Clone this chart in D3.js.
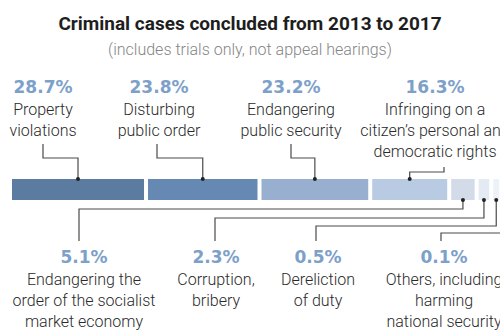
<!DOCTYPE html>
<html>
<head>
<meta charset="utf-8">
<script src="https://cdn.jsdelivr.net/npm/d3@7"></script>
<style>
  body { margin: 0; background: #fff; overflow: hidden; }
  svg { display: block; }
  .title { font-family: Roboto, sans-serif; font-weight: 700; font-size: 19px; fill: #1e1e1e; }
  .subtitle { font-family: Roboto, sans-serif; font-weight: 300; font-size: 16px; fill: #858585; }
  .pct { font-family: "DejaVu Sans", sans-serif; font-weight: 700; font-size: 17px; fill: #7da0c9; }
  .lbl { font-family: Roboto, sans-serif; font-weight: 300; font-size: 16px; fill: #2a2a2a; }
  .conn { fill: none; stroke: #4a4a4a; stroke-width: 1.2; }
</style>
</head>
<body>
<script>
// Data.
var categories = [
  ["Property", "violations"],
  ["Disturbing", "public order"],
  ["Endangering", "public security"],
  ["Infringing on a", "citizen\u2019s personal and", "democratic rights"],
  ["Endangering the", "order of the socialist", "market economy"],
  ["Corruption,", "bribery"],
  ["Dereliction", "of duty"],
  ["Others, including", "harming", "national security"]
];
var shares = [28.7, 23.8, 23.2, 16.3, 5.1, 2.3, 0.5, 0.1];
var colors = ["#5b7ba1", "#6589b3", "#98afd0", "#b8cbe2", "#d3dbe8", "#e4eaf4", "#edf1f8", "#f1f4f9"];

// Layout: which side each label sits on, and where its text / leader line goes.
var side = ["top", "top", "top", "top", "bottom", "bottom", "bottom", "bottom"];
var textX = [43, 159, 291, 435, 84, 216, 318, 444];
var lineX = [43, 157, 291, 444, 79, 215, 316, 441];
var elbowY = [158, 158, 158, 172, 209, 218, 226, 233];

var W = 500, H = 334;
var barLeft = 12, barTop = 179, barH = 21, gap = 4, minW = 6;

var svg = d3.select("body").append("svg")
  .attr("width", W)
  .attr("height", H);

svg.append("text").attr("class", "title")
  .attr("x", W / 2).attr("y", 30)
  .attr("text-anchor", "middle")
  .text("Criminal cases concluded from 2013 to 2017");

svg.append("text").attr("class", "subtitle")
  .attr("x", W / 2).attr("y", 55)
  .attr("text-anchor", "middle")
  .text("(includes trials only, not appeal hearings)");

var x = d3.scaleLinear().domain([0, 100]).range([0, 460]);

// Stack bars left to right with a small gap.
var bars = [];
var cursor = barLeft;
shares.forEach(function (v, i) {
  var w = Math.max(minW, x(v));
  bars.push({ i: i, x0: cursor, w: w, mid: cursor + w / 2 });
  cursor += w + gap;
});

svg.selectAll(".bar")
  .data(bars)
  .enter()
  .append("rect")
  .attr("class", "bar")
  .attr("x", d => d.x0)
  .attr("y", barTop)
  .attr("width", d => d.w)
  .attr("height", barH)
  .attr("fill", d => colors[d.i]);

// Leader lines.
svg.selectAll(".conn")
  .data(bars)
  .enter()
  .append("path")
  .attr("class", "conn")
  .attr("d", function (d) {
    var i = d.i;
    if (side[i] === "top") {
      var y0 = categories[i].length === 3 ? 167 : 144;
      return "M" + lineX[i] + "," + y0 + "V" + elbowY[i] + "H" + d.mid + "V" + barTop;
    }
    return "M" + d.mid + "," + (barTop + barH) + "V" + elbowY[i] + "H" + lineX[i] + "V241";
  });

svg.selectAll(".dot")
  .data(bars)
  .enter()
  .append("circle")
  .attr("cx", d => d.mid)
  .attr("cy", d => side[d.i] === "top" ? barTop : barTop + barH)
  .attr("r", 2)
  .attr("fill", "#222");

// Labels.
var labels = svg.selectAll(".label")
  .data(bars)
  .enter()
  .append("g")
  .attr("class", "label")
  .attr("transform", d => "translate(" + textX[d.i] + "," + (side[d.i] === "top" ? 93 : 263) + ")");

labels.append("text")
  .attr("class", "pct")
  .attr("text-anchor", "middle")
  .text(d => d3.format(".1f")(shares[d.i]) + "%");

labels.each(function (d) {
  var g = d3.select(this);
  categories[d.i].forEach(function (line, k) {
    g.append("text")
      .attr("class", "lbl")
      .attr("text-anchor", "middle")
      .attr("y", 22 + k * 21)
      .text(line);
  });
});
</script>
</body>
</html>
